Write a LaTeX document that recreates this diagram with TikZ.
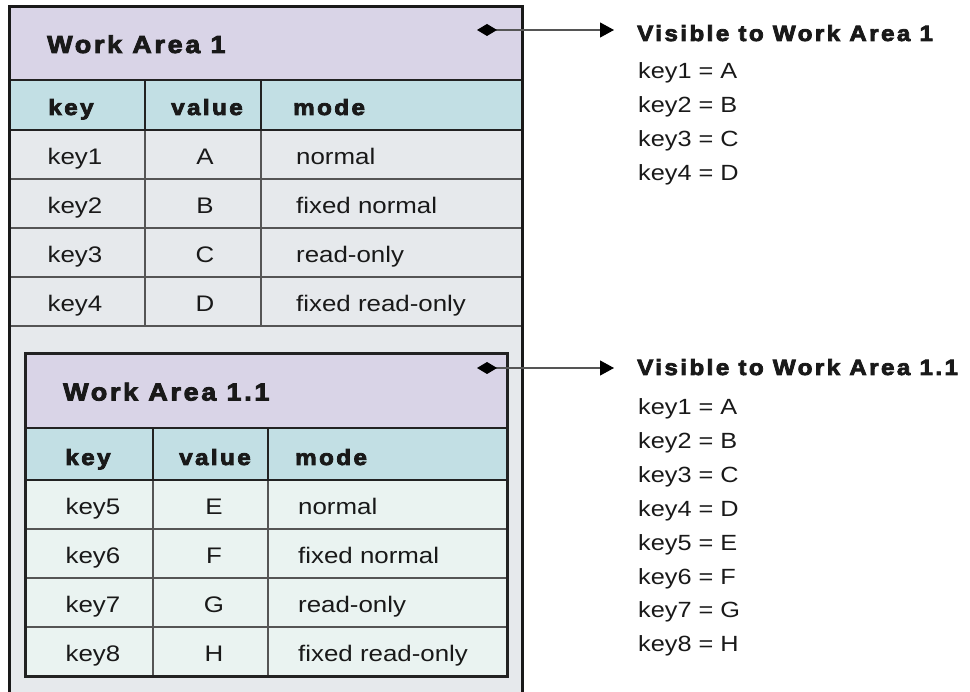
\documentclass[tikz,border=0pt]{standalone}
\usepackage{fontspec}
\setmainfont{Liberation Sans}[FakeStretch=1.15]
\newfontfamily\blkfont{Liberation Sans}[FakeStretch=1.1,LetterSpace=11,FakeBold=3.5]
\usetikzlibrary{arrows.meta}
\definecolor{lav}{HTML}{D9D4E7}
\definecolor{teal}{HTML}{C2DFE4}
\definecolor{bodyc}{HTML}{E6E9EC}
\definecolor{innerc}{HTML}{EAF3F1}
\definecolor{gridc}{HTML}{555555}
\definecolor{darkc}{HTML}{222222}
\tikzset{
  cell/.style={font=\fontsize{22.5}{26}\selectfont, inner sep=0pt, anchor=base, text=black!90},
  celll/.style={cell, anchor=base west},
  hdr/.style={font=\blkfont\bfseries\fontsize{22}{26}\selectfont, inner sep=0pt, anchor=base, text=black!90},
  hdrl/.style={hdr, anchor=base west},
  ttl/.style={font=\blkfont\bfseries\fontsize{24.5}{28}\selectfont, inner sep=0pt, anchor=base west, text=black!90},
  vis/.style={font=\blkfont\bfseries\fontsize{22}{26}\selectfont, inner sep=0pt, anchor=base west, text=black!90},
  listtxt/.style={font=\fontsize{22}{26}\selectfont, inner sep=0pt, anchor=base west, text=black!90},
  gridl/.style={draw=gridc, line width=2pt},
  darkl/.style={draw=darkc, line width=2.5pt},
  link/.style={draw=gridc, line width=1.2pt, {Diamond[length=20pt,width=12pt,fill=black,color=black]}-{Triangle[length=14pt,width=15pt,fill=black,color=black]}}
}
\begin{document}
\begin{tikzpicture}[x=1pt,y=-1pt]
\useasboundingbox (0,0) rectangle (970,692);
\clip (0,0) rectangle (970,692);
% ---------- outer work area ----------
\fill[bodyc] (9.5,6.5) rectangle (522.5,720);
\fill[lav] (9.5,6.5) rectangle (522.5,80);
\fill[teal] (9.5,80) rectangle (522.5,130);
\foreach \yy in {179,228,277,326} \draw[gridl] (9.5,\yy) -- (522.5,\yy);
\foreach \xx in {145,261} {\draw[gridl] (\xx,130) -- (\xx,326); \draw[darkl] (\xx,80) -- (\xx,130);}
\draw[darkl] (9.5,80) -- (522.5,80);
\draw[darkl] (9.5,130) -- (522.5,130);
\node[ttl] (t1) at (47,53) {Work Area 1};
\node[hdr] (h1k) at (71,115) {key};
\node[hdr] (h1v) at (207,115) {value};
\node[hdrl] (h1m) at (293,115) {mode};
\foreach \k/\v/\m [count=\i] in {1/A/normal,2/B/fixed normal,3/C/read-only,4/D/fixed read-only}{
  \node[cell] (ok\i) at (75,{164.5+(\i-1)*49}) {key\k};
  \node[cell] (ov\i) at (205,{164.5+(\i-1)*49}) {\v};
  \node[celll] (om\i) at (296,{164.5+(\i-1)*49}) {\m};
}
% ---------- inner work area ----------
\fill[innerc] (25,353.5) rectangle (507.5,676);
\fill[lav] (25,353.5) rectangle (507.5,428);
\fill[teal] (25,428) rectangle (507.5,480);
\foreach \yy in {529,578,627} \draw[gridl] (25,\yy) -- (507.5,\yy);
\foreach \xx in {153,268} {\draw[gridl] (\xx,480) -- (\xx,676); \draw[darkl] (\xx,428) -- (\xx,480);}
\draw[darkl] (25,428) -- (507.5,428);
\draw[darkl] (25,480) -- (507.5,480);
\draw[draw=darkc, line width=3pt] (25,353.5) rectangle (507.5,676);
\node[ttl] (t2) at (63,400.5) {Work Area 1.1};
\node[hdr] (h2k) at (88,465) {key};
\node[hdr] (h2v) at (215,465) {value};
\node[hdrl] (h2m) at (295,465) {mode};
\foreach \k/\v/\m [count=\i] in {5/E/normal,6/F/fixed normal,7/G/read-only,8/H/fixed read-only}{
  \node[cell] (ik\i) at (93,{514.5+(\i-1)*49}) {key\k};
  \node[cell] (iv\i) at (214,{514.5+(\i-1)*49}) {\v};
  \node[celll] (im\i) at (298,{514.5+(\i-1)*49}) {\m};
}
% ---------- outer border ----------
\draw[draw=black!90, line width=3.5pt] (9.5,720) -- (9.5,6.5) -- (522.5,6.5) -- (522.5,720);
% ---------- visibility lists ----------
\node[vis] (v1) at (637,41) {Visible to Work Area 1};
\foreach \k/\v [count=\i] in {1/A,2/B,3/C,4/D}
  \node[listtxt] (ra\i) at (638,{79+(\i-1)*34}) {key\k{} = \v};
\node[vis] (v2) at (637,375) {Visible to Work Area 1.1};
\foreach \k/\v [count=\i] in {1/A,2/B,3/C,4/D,5/E,6/F,7/G,8/H}
  \node[listtxt] (rb\i) at (638,{415+(\i-1)*33.8}) {key\k{} = \v};
\coordinate (d1) at (477,30);
\coordinate (d2) at (477,368);
\draw[link] (d1) -- ([xshift=-23pt]v1.west |- d1);
\draw[link] (d2) -- ([xshift=-23pt]v2.west |- d2);
\end{tikzpicture}
\end{document}
